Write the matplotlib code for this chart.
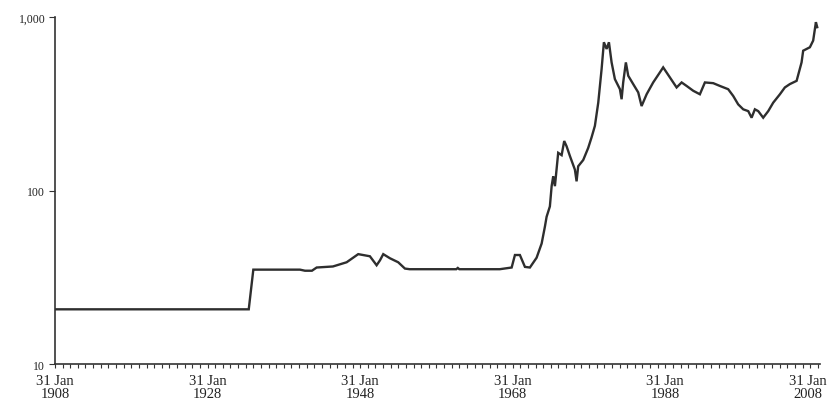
import matplotlib
matplotlib.use("Agg")
import matplotlib.pyplot as plt
import matplotlib.transforms as mtransforms
import numpy as np

# Gold price, US$ per ounce, month-end readings (decimal years)
years = [
    1908.0, 1933.4, 1934.0, 1940.11, 1940.77, 1941.68, 1942.30, 1944.43,
    1946.23, 1947.75, 1949.28, 1950.16, 1950.60, 1951.03, 1951.91, 1952.99,
    1953.87, 1954.5, 1960.6, 1960.8, 1961.0, 1966.3, 1967.86, 1968.29,
    1968.94, 1969.6, 1970.25, 1971.13, 1971.79, 1972.22, 1972.44, 1972.87,
    1973.10, 1973.31, 1973.53, 1973.96, 1974.41, 1974.75, 1975.06, 1975.50,
    1976.15, 1976.37, 1976.58, 1977.24, 1977.89, 1978.34, 1978.77, 1979.21,
    1979.65, 1979.95, 1980.31, 1980.61, 1980.96, 1981.39, 1982.05, 1982.27,
    1982.48, 1982.83, 1983.14, 1983.79, 1984.45, 1984.89, 1985.55, 1986.41,
    1987.29, 1987.72, 1988.60, 1989.48, 1990.14, 1990.79, 1991.66, 1992.53,
    1993.19, 1994.28, 1995.15, 1996.24, 1996.90, 1997.55, 1998.21, 1998.87,
    1999.31, 1999.74, 2000.18, 2000.83, 2001.49, 2002.14, 2003.02, 2003.67,
    2004.33, 2005.21, 2005.86, 2006.07, 2006.95, 2007.38, 2007.74, 2007.91,
]
price = [
    20.67, 20.67, 35.0, 35.0, 34.5, 34.5, 36.0, 36.5,
    38.6, 43.0, 41.8, 37.1, 39.6, 43.0, 40.7, 38.6,
    35.5, 35.2, 35.2, 35.8, 35.2, 35.2, 36.0, 42.5,
    42.5, 36.3, 36.0, 41.0, 49.5, 62.0, 70.6, 81.0,
    106, 121, 106, 165, 160, 193, 180, 158,
    132, 113, 138, 150, 176, 203, 236, 321,
    502, 716, 655, 716, 548, 439, 384, 336,
    420, 548, 459, 411, 368, 307, 359, 420,
    480, 513, 449, 393, 420, 401, 376, 359,
    420, 416, 401, 384, 351, 314, 294, 287,
    263, 294, 287, 263, 287, 321, 359, 393,
    411, 429, 548, 640, 670, 732, 935, 875,
]

label_years = [1908, 1928, 1948, 1968, 1988, 2008]
y_ticks = [10, 100, 1000]
y_labels = ["10", "100", "1,000"]

plt.rcParams["font.family"] = ["Liberation Serif", "DejaVu Serif"]

fig = plt.figure(figsize=(8.29, 4.02), dpi=100)
ax = fig.add_axes([0.0663, 0.092, 0.9227, 0.863])

ax.plot(years, price, color="#2e2e2e", linewidth=1.7, solid_joinstyle="miter")

ax.set_yscale("log")
ax.set_ylim(10, 1000)
ax.set_xlim(1908, 2008.26)

ax.set_yticks(y_ticks)
ax.set_yticklabels(y_labels)
ax.yaxis.set_minor_locator(matplotlib.ticker.NullLocator())

ax.set_xticks(label_years)
ax.set_xticklabels(["31 Jan\n%d" % y for y in label_years], linespacing=1.05)
ax.set_xticks(np.arange(1908, 2009), minor=True)

for side in ("top", "right"):
    ax.spines[side].set_visible(False)
for side in ("left", "bottom"):
    ax.spines[side].set_color("#333333")
    ax.spines[side].set_linewidth(1.2)

ax.tick_params(axis="x", which="both", direction="out", length=3, width=0.8,
               colors="#333333", labelsize=10.5, pad=4, labelcolor="#222222")
ax.tick_params(axis="y", which="major", direction="out", length=4, width=0.8,
               colors="#333333", labelsize=8.5, pad=3, labelcolor="#222222")

# pull the last date label in so it stays on the canvas
last = ax.get_xticklabels()[-1]
last.set_transform(last.get_transform() +
                   mtransforms.ScaledTranslation(-0.1, 0, fig.dpi_scale_trans))

fig.savefig("out.png", dpi=100)
